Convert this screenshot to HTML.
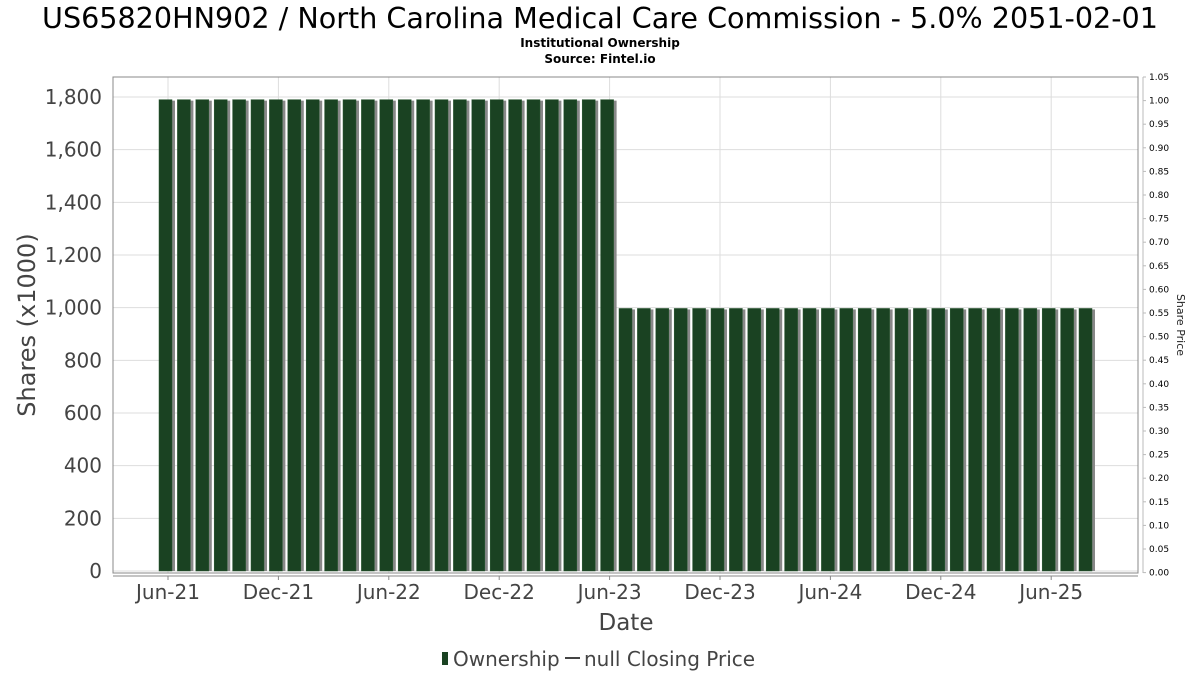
<!DOCTYPE html>
<html><head><meta charset="utf-8"><style>
body{margin:0;background:#fff;width:1200px;height:675px;overflow:hidden;font-family:"DejaVu Sans","Liberation Sans",sans-serif}
</style></head><body>
<svg width="1200" height="675" xmlns="http://www.w3.org/2000/svg">
<text x="600" y="28" text-anchor="middle" font-size="28.6" fill="#000">US65820HN902 / North Carolina Medical Care Commission - 5.0% 2051-02-01</text>
<text x="600" y="47" text-anchor="middle" font-size="12" font-weight="bold">Institutional Ownership</text>
<text x="600" y="63" text-anchor="middle" font-size="12" font-weight="bold">Source: Fintel.io</text>
<g id="grid"></g>
<rect x="113" y="77" width="1025" height="496" fill="none" stroke="#888"/>
<g id="bars"></g>
<g id="axes"></g>
<text x="28" y="325" transform="rotate(-90 28 325)" text-anchor="middle" dominant-baseline="middle" font-size="24" fill="#444">Shares (x1000)</text>
<text x="1177" y="325" transform="rotate(90 1177 325)" text-anchor="middle" font-size="11" fill="#222">Share Price</text>
<text x="626" y="630" text-anchor="middle" font-size="23" fill="#444">Date</text>
<g>
<rect x="442" y="652" width="6" height="13" fill="#1a4222"/>
<text x="453" y="666" font-size="20" fill="#444">Ownership</text>
<line x1="565" y1="658" x2="580" y2="658" stroke="#444" stroke-width="2"/>
<text x="584" y="666" font-size="20" fill="#444">null Closing Price</text>
</g>
</svg>
<script>
const highValues=[1790,1790,1790,1790,1790,1790,1790,1790,1790,1790,1790,1790,1790,1790,1790,1790,1790,1790,1790,1790,1790,1790,1790,1790,1790];
const lowValues=[997,997,997,997,997,997,997,997,997,997,997,997,997,997,997,997,997,997,997,997,997,997,997,997,997,997];
const values=highValues.concat(lowValues);
const startMonth=5;
const yTicks=[0,200,400,600,800,1000,1200,1400,1600,1800];
const y2Ticks=[0,0.05,0.1,0.15,0.2,0.25,0.3,0.35,0.4,0.45,0.5,0.55,0.6,0.65,0.7,0.75,0.8,0.85,0.9,0.95,1.0,1.05];
const xTickLabels=["Jun-21","Dec-21","Jun-22","Dec-22","Jun-23","Dec-23","Jun-24","Dec-24","Jun-25"];
const xTickMonths=[5,11,17,23,29,35,41,47,53];
const NS="http://www.w3.org/2000/svg";
const x=m=>166+(m-5)*18.4;
const y=v=>571-v*(474/1800);
const y2=v=>572.6-v*(495.6/1.05);
function mk(t,a,p){const e=document.createElementNS(NS,t);for(const k in a)e.setAttribute(k,a[k]);p.appendChild(e);return e;}
const grid=document.getElementById('grid'),bars=document.getElementById('bars'),axes=document.getElementById('axes');
yTicks.forEach(v=>{
 const l=mk('line',{x1:113,x2:1138,y1:y(v),y2:y(v),stroke:'#ddd'},grid);
 
 
 const t=mk('text',{x:102,y:y(v)+7,'text-anchor':'end','font-size':20,fill:'#444'},axes);
 t.textContent=v.toLocaleString('en-US');
 
 
});
xTickMonths.forEach((m,i)=>{
 const l=mk('line',{x1:x(m)+2,x2:x(m)+2,y1:77,y2:573,stroke:'#ddd'},grid);
 
 
 mk('line',{x1:x(m)+2,x2:x(m)+2,y1:576,y2:580,stroke:'#888'},axes);
 const t=mk('text',{x:x(m)+2,y:599,'text-anchor':'middle','font-size':20,fill:'#444'},axes);
 t.textContent=xTickLabels[i];
 
 
});
mk('line',{x1:113,x2:1138,y1:576,y2:576,stroke:'#888'},axes);
mk('line',{x1:1143,x2:1143,y1:77,y2:573,stroke:'#bbb'},axes);
y2Ticks.forEach(v=>{
 mk('line',{x1:1143,x2:1146,y1:y2(v),y2:y2(v),stroke:'#bbb'},axes);
 const t=mk('text',{x:1149,y:y2(v)+3,'font-size':9,fill:'#000'},axes);
 t.textContent=v.toFixed(2);
 
 
});
values.forEach((v,i)=>{
 const cx=x(startMonth+i);
 mk('rect',{x:cx-4,y:y(v)+1,width:13,height:571-y(v)-1,fill:'#888'},bars);
 const r=mk('rect',{x:cx-7,y:y(v),width:13,height:571-y(v),fill:'#1a4222',stroke:'#2d5a35','stroke-width':0.5},bars);
 
 
});
</script>
</body></html>
